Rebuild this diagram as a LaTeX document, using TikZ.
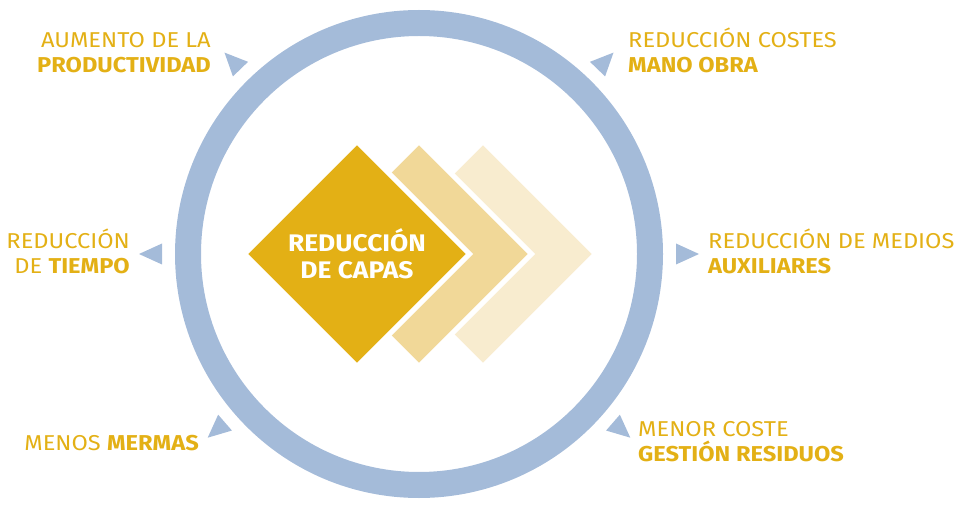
\documentclass[tikz,border=0pt]{standalone}
\usepackage{fontspec}
\setmainfont{Fira Sans}[FakeStretch=1.1]
\usepackage{tikz}
\usetikzlibrary{calc}
\usetikzlibrary{positioning,shapes.geometric}
\definecolor{ringblue}{HTML}{A4BBD9}
\definecolor{capgold}{HTML}{E3B015}
\definecolor{captan}{HTML}{F1D898}
\definecolor{capcream}{HTML}{F8ECCF}

\begin{document}
\begin{tikzpicture}[x=1pt, y=1pt,
                    font=\fontsize{21.5}{25}\selectfont]
  % styles
  \tikzstyle{ring}=[circle,draw=ringblue,line width=26pt,minimum size=462pt,inner sep=0pt]
  \tikzstyle{layer}=[diamond,draw=white,line width=5pt,minimum size=227pt,inner sep=0pt]
  \tikzstyle{arrowmark}=[isosceles triangle,isosceles triangle stretches,fill=ringblue,
                         inner sep=0pt,outer sep=0pt,minimum width=21pt,minimum height=23pt,
                         anchor=lower side]
  \tikzstyle{lbl}=[text=capgold,inner sep=0pt]

  \useasboundingbox (0,0) rectangle (960,509);

  % ring
  \node[ring] (ring) at (419,255) {};

  % layers
  \node[layer,fill=capcream] (back) at (483,255) {};
  \node[layer,fill=captan]   (mid)  at (419,255) {};
  \node[layer,fill=capgold,text=white,align=center,
        font=\fontsize{24}{27}\selectfont\bfseries] (front) at (357,255)
        {REDUCCIÓN\\DE CAPAS};

  % marks
  \foreach \a/\n in {134/nw,46/ne,180/w,0/e,221/sw,319/se}
    \node[arrowmark,rotate=\a] (m\n) at ($(ring.center)+(\a:257)$) {};

  % labels (base = last line)
  \node[lbl,anchor=base east,align=right] (prod) at (211,436)
        {AUMENTO DE LA\\\textbf{PRODUCTIVIDAD}};
  \node[lbl,anchor=base west,align=left]  (mano) at (628,436)
        {REDUCCIÓN COSTES\\\textbf{MANO OBRA}};
  \node[lbl,anchor=base east,align=right] (tiempo) at (130,236)
        {REDUCCIÓN\\DE \textbf{TIEMPO}};
  \node[lbl,anchor=base west,align=left]  (aux) at (708,236)
        {REDUCCIÓN DE MEDIOS\\\textbf{AUXILIARES}};
  \node[lbl,anchor=base east,align=right] (mermas) at (199,59)
        {MENOS \textbf{MERMAS}};
  \node[lbl,anchor=base west,align=left]  (resid) at (638,48)
        {MENOR COSTE\\\textbf{GESTIÓN RESIDUOS}};
\end{tikzpicture}
\end{document}
